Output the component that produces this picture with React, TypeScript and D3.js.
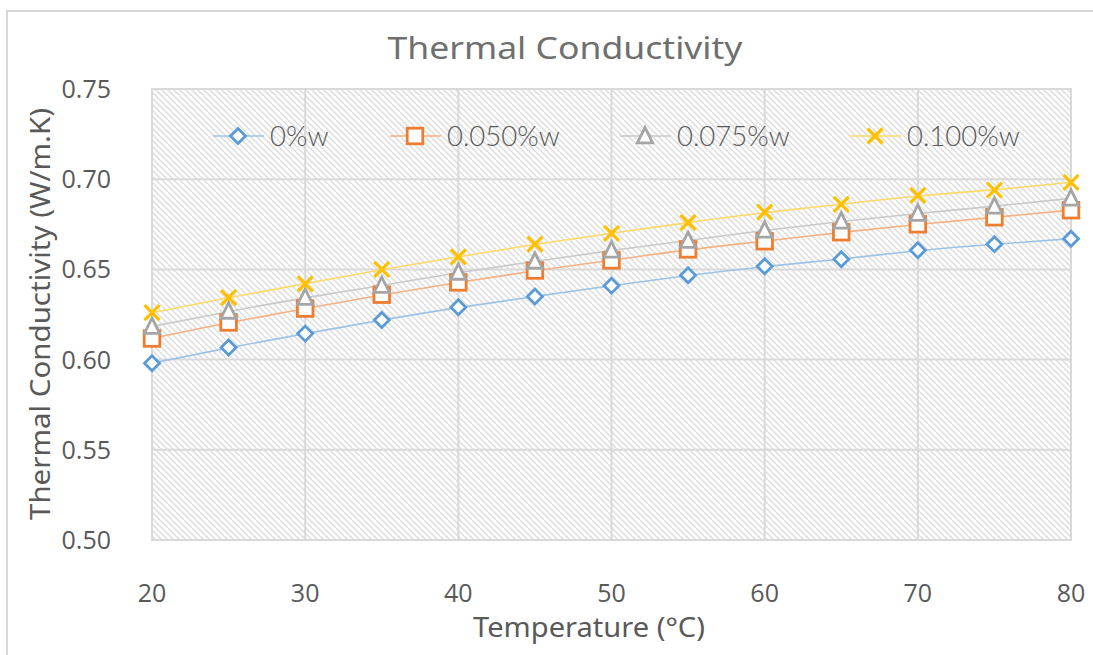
import React from "react";
import * as d3 from "d3";

const temperatures = [20, 25, 30, 35, 40, 45, 50, 55, 60, 65, 70, 75, 80];
const w0 = [0.598, 0.6067, 0.6144, 0.622, 0.629, 0.635, 0.641, 0.6467, 0.6517, 0.6556, 0.6606, 0.664, 0.667];
const w050 = [0.6117, 0.6206, 0.6283, 0.636, 0.6428, 0.6494, 0.655, 0.6611, 0.6656, 0.6706, 0.675, 0.6789, 0.6828];
const w075 = [0.6183, 0.6267, 0.6344, 0.641, 0.6483, 0.6544, 0.6606, 0.666, 0.6717, 0.6767, 0.681, 0.685, 0.6894];
const w100 = [0.626, 0.6344, 0.642, 0.65, 0.657, 0.664, 0.67, 0.676, 0.6817, 0.686, 0.691, 0.694, 0.6983];
const seriesNames = ["0%w", "0.050%w", "0.075%w", "0.100%w"];
const xTicks = [20, 30, 40, 50, 60, 70, 80];
const yTicks = [0.5, 0.55, 0.6, 0.65, 0.7, 0.75];

const markerColors = ["#5B9BD5", "#ED7D31", "#A5A5A5", "#FFC000"];
const lineColors = ["#9DC3E6", "#F4B183", "#C9C9C9", "#FFD966"];
const markerTypes = ["diamond", "square", "triangle", "x"];

const W = 1093, H = 655;
const plot = { left: 152, right: 1071, top: 89, bottom: 540 };
const textColor = "#595959";
const gridColor = "#d9d9d9";

function Marker({ type, x, y, color }: { type: string; x: number; y: number; color: string }) {
  const sw = 2.8;
  if (type === "diamond") {
    const r = 7.5;
    return <path d={`M${x},${y - r}L${x + r},${y}L${x},${y + r}L${x - r},${y}Z`} fill="#fff" stroke={color} strokeWidth={sw} />;
  }
  if (type === "square") {
    const r = 7.8;
    return <rect x={x - r} y={y - r} width={2 * r} height={2 * r} fill="#fff" stroke={color} strokeWidth={sw} />;
  }
  if (type === "triangle") {
    const r = 8.5;
    return <path d={`M${x},${y - r}L${x + r * 0.9},${y + r * 0.8}L${x - r * 0.9},${y + r * 0.8}Z`} fill="#fff" stroke={color} strokeWidth={sw} />;
  }
  const r = 7.5;
  return (
    <g stroke={color} strokeWidth={sw + 0.4}>
      <line x1={x - r} y1={y - r} x2={x + r} y2={y + r} />
      <line x1={x - r} y1={y + r} x2={x + r} y2={y - r} />
    </g>
  );
}

export default function App() {
  const x = d3.scaleLinear().domain([20, 80]).range([plot.left, plot.right]);
  const y = d3.scaleLinear().domain([0.5, 0.75]).range([plot.bottom, plot.top]);
  const all = [w0, w050, w075, w100];
  const line = d3
    .line<number>()
    .x((_, i) => x(temperatures[i]))
    .y((d) => y(d))
    .curve(d3.curveBasis);

  const legendItems = [
    { mx: 238, tx: 270 },
    { mx: 415, tx: 447 },
    { mx: 645, tx: 677 },
    { mx: 875, tx: 907 },
  ];
  const legendY = 136;

  return (
    <svg width={W} height={H} style={{ position: "absolute", left: 0, top: 0, background: "#fff" }}>
      <defs>
        <pattern id="hatch" patternUnits="userSpaceOnUse" width={6} height={6}>
          <rect width={6} height={6} fill="#fff" />
          <path d="M-1,-1L7,7M-1,5L1,7M5,-1L7,1" stroke="#dcdcdc" strokeWidth={1.4} />
        </pattern>
      </defs>
      <rect x={7} y={11} width={W + 20} height={H + 20} fill="#fff" stroke={gridColor} strokeWidth={2} />
      <rect x={plot.left} y={plot.top} width={plot.right - plot.left} height={plot.bottom - plot.top} fill="url(#hatch)" />
      {yTicks.map((t) => (
        <line key={"gy" + t} x1={plot.left} x2={plot.right} y1={y(t)} y2={y(t)} stroke={gridColor} strokeWidth={2} />
      ))}
      {xTicks.map((t) => (
        <line key={"gx" + t} x1={x(t)} x2={x(t)} y1={plot.top} y2={plot.bottom} stroke={gridColor} strokeWidth={2} />
      ))}
      <rect x={plot.left} y={plot.top} width={plot.right - plot.left} height={plot.bottom - plot.top} fill="none" stroke={gridColor} strokeWidth={2} />

      <text x={565} y={59} textAnchor="middle" fontFamily="'Noto Sans', sans-serif" fontSize={31} fill="#6f6f6f" textLength={355} lengthAdjust="spacingAndGlyphs">
        Thermal Conductivity
      </text>

      {yTicks.map((t) => (
        <text key={"ty" + t} x={111} y={y(t) + 9} textAnchor="end" fontFamily="'Open Sans', sans-serif" fontSize={25} fill={textColor}>
          {t.toFixed(2)}
        </text>
      ))}
      {xTicks.map((t) => (
        <text key={"tx" + t} x={x(t)} y={602} textAnchor="middle" fontFamily="'Open Sans', sans-serif" fontSize={25} fill={textColor}>
          {t}
        </text>
      ))}

      <text x={589} y={637} textAnchor="middle" fontFamily="'Noto Sans', sans-serif" fontSize={27} fill={textColor} textLength={232} lengthAdjust="spacingAndGlyphs">
        Temperature (°C)
      </text>
      <text
        transform={`translate(50,314) rotate(-90)`}
        textAnchor="middle"
        fontFamily="'Noto Sans', sans-serif"
        fontSize={27}
        fill={textColor}
        textLength={412}
        lengthAdjust="spacingAndGlyphs"
      >
        Thermal Conductivity (W/m.K)
      </text>

      {all.map((s, i) => (
        <path key={"l" + i} d={line(s) || ""} fill="none" stroke={lineColors[i]} strokeWidth={1.6} />
      ))}
      {all.map((s, i) => (
        <g key={"m" + i}>
          {s.map((v, j) => (
            <Marker key={j} type={markerTypes[i]} x={x(temperatures[j])} y={y(v)} color={markerColors[i]} />
          ))}
        </g>
      ))}

      {seriesNames.map((n, i) => (
        <g key={"lg" + i}>
          <line x1={legendItems[i].mx - 25} x2={legendItems[i].mx + 26} y1={legendY} y2={legendY} stroke={lineColors[i]} strokeWidth={1.6} />
          <Marker type={markerTypes[i]} x={legendItems[i].mx} y={legendY} color={markerColors[i]} />
          <text x={legendItems[i].tx} y={legendY + 10} fontFamily="'Lato', sans-serif" fontWeight={300} fontSize={27.5} fill={textColor}>
            {n}
          </text>
        </g>
      ))}
    </svg>
  );
}
